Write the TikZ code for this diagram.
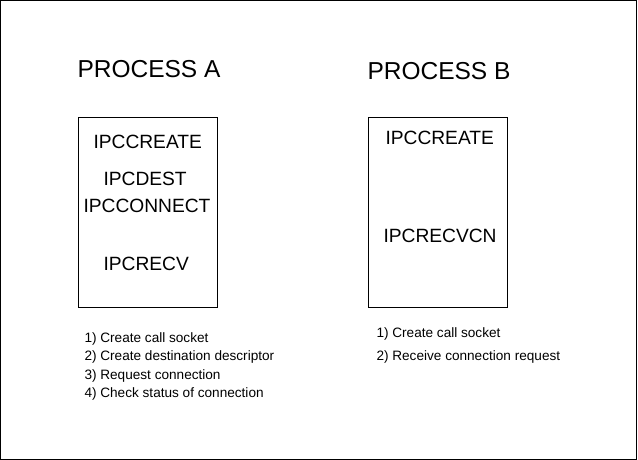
\documentclass[tikz,border=0pt]{standalone}
\usepackage{fontspec}
\setmainfont{Liberation Sans}
\begin{document}
\begin{tikzpicture}[x=1pt, y=-1pt, line width=1pt,
    title/.style={anchor=base west, inner sep=0pt, font=\fontsize{24.5}{29}\selectfont},
    call/.style={anchor=base west, inner sep=0pt, font=\fontsize{19.2}{23}\selectfont},
    note/.style={anchor=base west, inner sep=0pt, font=\fontsize{13.6}{16}\selectfont},
    proc/.style={draw, rectangle, inner sep=0pt, minimum width=139pt, minimum height=189pt}]
\useasboundingbox (0,0) rectangle (638,460);
\draw (0.5,0.5) rectangle (636.5,459);
% process A
\node[title] (titleA) at (77,78) {PROCESS A};
\node[proc] (boxA) at (147.5,212.5) {};
\node[call] (createA) at (93,148) {IPCCREATE};
\node[call] (dest) at (103,185) {IPCDEST};
\node[call] (connect) at (83,212) {IPCCONNECT};
\node[call] (recv) at (103,270) {IPCRECV};
\node[note] (stepA1) at (84,342) {1) Create call socket};
\node[note] (stepA2) at (84,360.5) {2) Create destination descriptor};
\node[note] (stepA3) at (84,379) {3) Request connection};
\node[note] (stepA4) at (84,397.5) {4) Check status of connection};
% process B
\node[title] (titleB) at (367,80) {PROCESS B};
\node[proc] (boxB) at (438,212.5) {};
\node[call] (createB) at (385,145) {IPCCREATE};
\node[call] (recvcn) at (383,242) {IPCRECVCN};
\node[note] (stepB1) at (376,337) {1) Create call socket};
\node[note] (stepB2) at (376,360) {2) Receive connection request};
\end{tikzpicture}
\end{document}
